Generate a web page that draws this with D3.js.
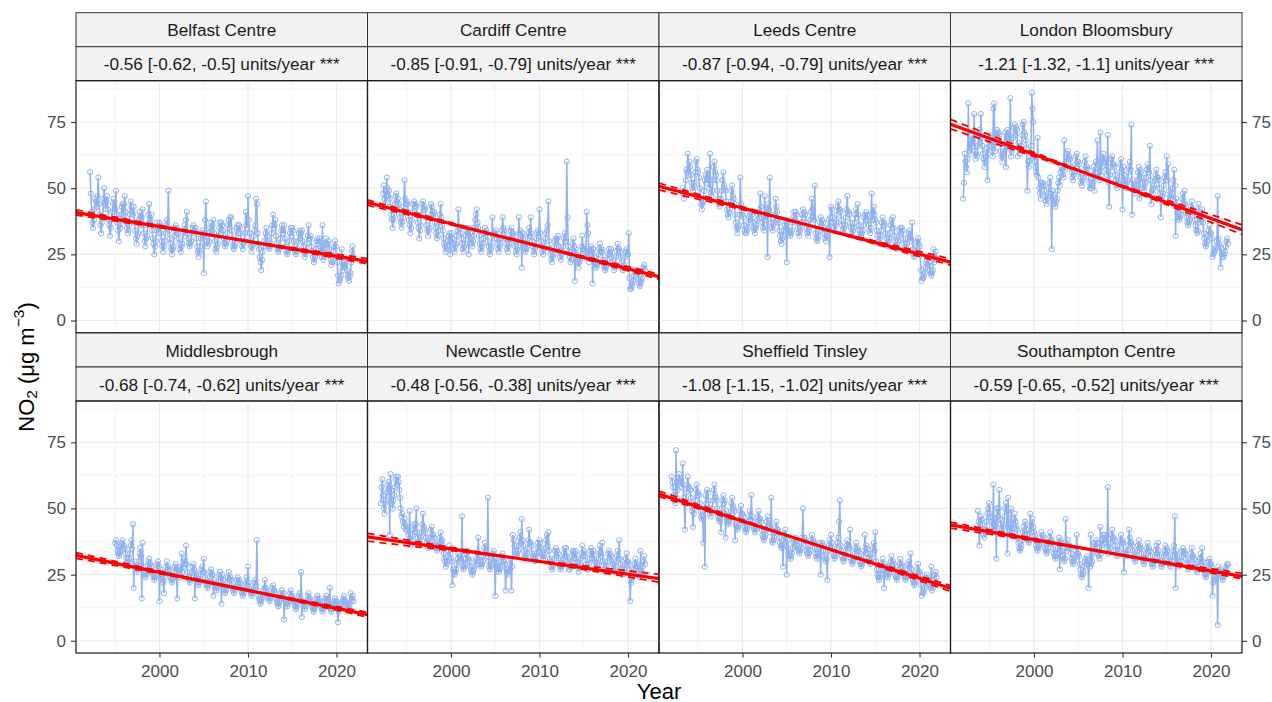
<!DOCTYPE html>
<html>
<head>
<meta charset="utf-8">
<script src="https://cdn.jsdelivr.net/npm/d3@7"></script>
<style>
  body { margin: 0; background: #fff; }
  text { font-family: "Liberation Sans", Arial, Helvetica, sans-serif; }
</style>
</head>
<body>
<svg id="chart" width="1272" height="702"></svg>
<script>
// ---- Sites, trend statistics and axis ticks ----
const siteNames = ["Belfast Centre", "Cardiff Centre", "Leeds Centre", "London Bloomsbury",
                   "Middlesbrough", "Newcastle Centre", "Sheffield Tinsley", "Southampton Centre"];
// first month of each monthly series [year, month]
const siteStart = [[1992, 3], [1992, 5], [1993, 4], [1992, 1], [1995, 1], [1992, 2], [1992, 1], [1993, 9]];
// Theil-Sen slope and 95% interval (units/year)
const trendSlope = [-0.56, -0.85, -0.87, -1.21, -0.68, -0.48, -1.08, -0.59];
const trendLower = [-0.62, -0.91, -0.94, -1.32, -0.74, -0.56, -1.15, -0.65];
const trendUpper = [-0.5, -0.79, -0.79, -1.1, -0.62, -0.38, -1.02, -0.52];
// fitted trend level in 2007
const trendAt2007 = [31.6, 30.6, 36.4, 54.3, 21.1, 31.4, 37.7, 34.1];
const xTicks = [2000, 2010, 2020];
const yTicks = [0, 25, 50, 75];

// ---- Monthly mean NO2 (one row per year) ----
const belfast = [
  56,48,41,37,35,38,42,46,45,43,
  47,54,44,40,36,33,37,39,46,50,44,42,
  45,47,42,38,36,32,35,38,41,44,46,41,
  42,49,40,37,34,30,36,35,40,43,44,38,
  44,47,41,37,35,33,34,36,40,45,43,41,
  40,43,37,34,31,29,32,33,38,41,39,36,
  39,42,36,33,30,28,31,32,36,40,44,37,
  38,40,34,31,29,25,28,30,34,37,35,33,
  37,36,33,30,28,26,28,30,33,36,38,35,
  49,34,31,29,27,25,27,28,32,35,36,33,
  35,33,31,29,27,26,28,29,33,34,36,32,
  38,41,33,31,29,28,29,30,33,35,36,34,
  34,35,31,28,26,24,26,28,31,33,34,32,
  18,33,38,45,30,28,29,30,33,35,37,34,
  36,38,33,30,27,26,28,29,32,35,37,33,
  37,36,34,31,29,28,29,30,33,36,38,35,
  39,39,34,30,28,27,28,29,32,35,36,33,
  36,35,33,30,28,27,29,30,33,41,36,35,
  47,38,33,30,28,26,28,29,32,34,36,46,
  44,33,29,27,24,22,19,23,26,28,30,29,
  33,35,32,30,28,27,28,29,33,36,40,35,
  36,38,32,29,27,26,27,28,31,34,36,33,
  34,36,31,28,26,25,26,27,30,33,35,32,
  35,34,30,28,26,25,26,27,30,33,34,31,
  33,34,30,28,26,24,25,26,29,32,36,31,
  31,32,28,26,24,22,23,24,27,30,31,29,
  30,31,28,26,24,36,23,24,27,29,31,29,
  29,30,27,25,23,21,22,23,26,28,30,28,
  24,22,17,14,15,16,17,27,19,21,22,20,
  21,23,19,17,16,15,17,18,22,26,28,24
];
const cardiff = [
  48,51,46,44,47,54,50,47,
  49,46,43,40,38,35,38,40,44,47,48,45,
  46,44,42,39,37,35,37,39,43,53,46,44,
  45,44,41,38,36,33,35,38,41,44,45,43,
  44,43,40,37,35,31,34,36,40,44,45,42,
  43,42,39,36,34,32,34,35,39,44,43,41,
  40,41,37,35,33,31,32,34,37,40,44,39,
  36,34,31,29,28,26,27,28,30,32,33,25,
  30,33,31,29,27,26,28,29,32,34,42,35,
  35,33,31,29,27,26,28,29,32,34,35,33,
  25,35,33,31,29,28,30,32,35,38,40,42,
  37,35,32,29,27,26,28,29,31,33,35,32,
  34,33,30,28,26,25,27,28,39,32,33,31,
  33,34,31,29,27,26,28,29,31,34,39,35,
  34,33,31,29,27,26,28,29,31,34,35,33,
  33,32,30,28,26,25,27,28,39,33,34,32,
  20,33,31,29,27,26,27,28,31,33,35,32,
  39,33,30,28,26,25,27,28,31,33,34,32,
  42,33,30,28,26,25,27,28,31,33,34,36,
  45,30,27,25,23,22,24,25,28,30,31,29,
  31,32,28,26,24,23,25,26,28,31,33,30,
  30,60,39,28,26,24,22,23,26,29,31,28,
  15,27,25,23,22,20,22,23,25,28,32,27,
  28,27,26,24,41,36,33,22,25,27,28,26,
  14,27,24,22,21,20,21,22,25,27,29,26,
  27,26,23,21,20,19,20,21,23,25,27,25,
  26,27,24,22,21,19,20,21,24,26,29,27,
  27,26,24,22,20,19,20,21,24,26,27,25,
  25,33,16,12,12,13,14,15,17,18,19,17,
  18,19,16,14,13,14,15,16,18,20,21,19
];
const leeds = [
  50,48,46,49,53,57,56,63,55,
  60,58,55,52,50,49,51,52,56,60,61,57,
  56,54,50,46,44,42,44,45,49,53,55,52,
  57,55,53,50,63,48,47,49,53,58,60,56,
  55,53,49,46,44,43,45,46,49,53,56,51,
  50,49,45,42,40,39,41,42,45,49,51,47,
  46,44,40,37,35,33,35,36,40,54,44,41,
  40,39,36,34,33,33,34,35,37,39,40,38,
  41,40,37,35,34,33,35,36,38,40,41,39,
  48,43,40,37,35,34,47,38,40,42,24,44,
  42,54,40,37,35,34,36,37,40,46,43,41,
  38,37,34,32,30,29,31,32,34,36,38,35,
  22,38,37,34,33,32,33,34,37,39,41,38,
  41,40,37,35,33,32,34,35,37,40,42,39,
  41,40,37,35,33,32,34,35,38,41,46,42,
  39,38,51,33,31,30,31,32,34,37,39,36,
  38,37,35,33,31,30,32,33,35,38,24,39,
  43,42,39,37,35,34,36,37,40,43,45,42,
  42,41,38,36,34,33,35,36,39,42,47,41,
  41,40,37,35,33,32,34,35,37,40,42,39,
  44,40,36,34,33,32,33,34,36,39,40,38,
  41,40,38,36,34,33,35,48,38,41,43,40,
  38,37,34,32,30,29,31,32,34,37,39,36,
  37,36,33,31,29,28,30,31,33,36,38,35,
  39,35,32,30,28,27,29,30,32,34,35,33,
  35,34,31,29,27,26,28,29,31,33,34,32,
  31,30,37,27,25,24,25,26,28,30,31,29,
  28,25,19,15,16,16,17,18,20,22,23,21,
  21,22,19,18,17,18,19,27,22,24,26,23
];
const london = [
  46,52,63,60,58,56,61,82,64,66,68,63,
  70,68,66,78,64,61,63,62,66,70,72,67,
  78,70,66,63,61,58,60,62,65,53,68,66,
  70,69,66,64,62,80,82,64,67,71,72,69,
  71,70,67,64,62,60,62,63,67,71,58,69,
  72,71,68,65,84,62,64,65,69,73,74,70,
  73,72,62,67,65,63,65,66,70,74,75,71,
  70,68,65,49,60,58,60,62,66,86,80,75,
  62,60,58,56,55,69,54,50,48,46,52,51,
  52,51,49,47,45,44,46,47,50,52,54,48,
  27,49,47,45,44,43,45,46,49,52,54,51,
  56,58,57,55,54,68,57,58,60,63,64,61,
  62,61,58,56,54,53,55,56,59,62,63,60,
  60,59,56,54,52,51,53,54,57,60,62,58,
  58,57,54,52,50,50,51,52,55,58,49,56,
  60,59,68,56,54,53,71,55,58,61,63,60,
  61,60,57,55,70,52,43,55,58,61,62,59,
  59,58,55,53,51,50,52,53,56,59,61,57,
  42,58,55,53,51,50,52,53,56,58,60,57,
  74,40,53,51,49,48,50,51,53,56,58,46,
  57,56,54,52,50,49,51,52,54,57,59,56,
  56,66,53,44,49,48,50,51,53,55,57,54,
  54,53,50,48,39,46,47,48,51,54,56,53,
  62,53,59,49,47,46,47,48,50,53,57,51,
  32,46,43,41,39,38,39,40,43,46,48,44,
  49,44,41,39,37,36,37,38,40,43,45,42,
  42,41,38,36,34,33,34,44,37,39,41,38,
  42,37,33,31,29,28,29,30,32,34,36,33,
  33,31,24,25,26,26,27,28,30,47,31,29,
  28,20,27,25,24,24,25,26,28,30,31,29
];
const middlesbrough = [
  37,38,36,34,33,32,33,34,36,37,38,35,
  36,35,33,31,30,29,30,31,33,36,38,35,
  44,20,30,28,27,26,27,28,30,33,35,32,
  16,37,28,26,25,24,25,26,28,30,31,29,
  29,28,26,25,24,23,24,25,27,29,30,28,
  15,27,25,24,23,22,18,24,26,28,30,27,
  28,27,25,24,23,22,23,24,26,28,29,27,
  16,28,27,26,25,24,33,26,28,30,31,29,
  36,29,26,24,23,22,23,24,26,28,29,27,
  16,26,25,23,22,21,22,23,25,27,28,26,
  31,26,24,22,21,20,21,22,24,26,27,25,
  25,17,23,21,20,19,20,21,23,25,26,24,
  14,25,23,21,19,18,19,20,22,24,26,23,
  24,23,21,20,19,18,19,20,21,23,24,22,
  23,22,20,19,18,17,18,19,21,22,24,21,
  28,22,20,19,18,17,18,19,20,22,23,21,
  38,19,17,16,15,14,15,16,17,19,20,23,
  20,19,18,17,16,15,16,17,18,20,21,19,
  19,18,16,15,14,13,14,15,16,18,19,17,
  18,8,16,15,14,13,14,15,16,18,19,17,
  17,16,15,14,13,12,13,14,15,17,18,16,
  26,9,15,14,13,12,13,14,15,17,18,16,
  16,15,14,13,12,11,12,13,14,16,17,15,
  16,15,14,13,12,11,12,13,15,16,17,15,
  16,15,14,20,12,11,12,13,14,15,16,14,
  15,14,7,11,12,12,13,14,15,16,17,15,
  15,14,13,12,12,13,14,18,15,16,17,15
];
const newcastle = [
  52,58,61,55,50,48,52,53,56,59,57,
  60,40,63,57,52,50,53,55,58,61,62,59,
  62,60,57,54,50,47,48,45,43,46,44,42,
  43,42,40,38,49,36,37,38,40,42,44,41,
  44,50,41,39,37,36,38,39,41,44,48,43,
  42,41,39,37,36,35,36,37,39,42,43,40,
  40,39,37,36,35,34,35,36,37,39,41,38,
  38,36,33,31,30,28,29,30,32,34,36,33,
  31,30,21,27,26,25,26,27,29,31,33,30,
  32,31,30,47,28,27,28,29,31,33,34,31,
  31,30,28,27,26,25,26,27,28,30,31,29,
  33,39,32,30,29,28,29,30,32,35,37,33,
  33,32,54,30,28,27,28,29,31,33,34,31,
  17,31,29,28,27,26,27,28,30,32,33,30,
  30,29,19,27,26,25,26,27,29,31,19,28,
  40,38,36,34,33,32,33,34,36,39,41,37,
  46,38,36,34,32,31,32,33,35,38,42,37,
  37,36,33,32,31,30,31,32,33,35,37,34,
  38,37,35,33,32,31,32,33,35,38,40,36,
  41,34,31,30,28,27,28,29,31,34,35,32,
  34,33,31,29,28,27,28,29,31,33,35,32,
  35,32,30,29,27,27,28,30,32,34,34,31,
  33,34,31,30,28,26,28,29,31,33,36,32,
  34,33,32,29,28,27,27,29,31,34,35,31,
  33,34,31,30,28,27,29,29,31,33,36,33,
  32,37,30,29,27,26,27,28,30,33,34,31,
  33,32,30,29,27,26,27,28,30,32,34,31,
  38,31,29,27,26,25,26,27,29,31,33,30,
  30,29,27,15,22,23,24,25,27,29,31,28,
  29,28,26,25,24,34,25,26,28,30,32,29
];
const sheffield = [
  62,60,58,55,53,52,72,54,57,60,63,60,
  61,60,58,67,54,52,42,53,56,59,62,58,
  58,57,54,51,49,43,48,50,53,57,59,55,
  56,55,52,49,47,46,47,37,50,28,55,52,
  57,56,53,50,48,47,49,50,53,57,59,55,
  54,53,50,47,46,45,46,41,50,53,55,52,
  53,39,49,46,45,44,45,46,49,52,54,51,
  50,49,38,44,43,42,43,44,46,49,51,48,
  48,47,45,43,42,41,42,43,45,47,49,46,
  55,47,45,43,42,41,42,43,45,47,49,46,
  46,45,42,40,39,38,39,40,42,45,47,44,
  44,43,41,54,38,37,38,39,41,43,45,42,
  42,41,39,37,36,35,36,28,38,40,42,39,
  25,38,35,33,32,31,32,33,35,37,38,36,
  39,38,36,35,34,33,34,35,37,39,50,38,
  39,38,36,34,33,32,33,34,36,38,40,37,
  38,37,35,33,32,31,32,33,35,37,25,36,
  37,36,34,32,31,30,31,23,34,36,38,35,
  40,37,35,33,32,31,32,33,35,37,39,45,
  53,36,34,32,31,30,31,32,34,36,38,35,
  36,35,42,31,30,29,30,31,33,35,37,34,
  35,34,32,30,29,28,29,30,32,34,40,33,
  36,35,33,31,30,29,30,31,33,35,37,34,
  41,30,27,25,24,23,24,25,27,29,31,28,
  20,29,28,26,25,24,25,26,28,30,32,29,
  30,29,27,25,24,23,24,25,27,29,31,28,
  29,28,26,25,24,23,24,25,27,29,30,28,
  33,27,25,23,22,21,22,23,25,27,29,26,
  26,25,21,17,18,18,19,20,22,24,25,23,
  23,22,21,20,28,19,20,21,23,25,26,24
];
const southampton = [
  49,45,36,44,
  47,46,44,42,40,39,41,42,45,48,50,52,
  48,47,45,43,41,59,42,43,46,31,50,47,
  50,57,46,44,42,41,43,44,47,50,52,49,
  33,54,44,42,40,50,41,42,44,46,48,45,
  43,42,39,37,35,34,35,36,38,41,43,40,
  45,44,42,40,38,37,38,48,41,44,46,43,
  41,40,38,36,35,34,35,36,37,39,41,38,
  40,39,37,35,34,33,34,35,37,39,41,38,
  38,37,35,33,32,31,32,33,35,37,39,27,
  38,37,34,32,31,30,31,46,34,36,38,35,
  36,35,33,31,30,29,30,31,32,34,40,33,
  33,32,29,27,25,24,25,26,28,30,31,29,
  32,31,20,29,28,40,29,30,33,35,37,34,
  38,37,35,33,32,31,43,33,36,38,40,37,
  40,39,37,35,58,33,34,35,37,40,42,39,
  39,38,36,34,33,32,33,34,36,38,40,37,
  38,37,26,34,33,32,33,34,36,42,39,37,
  37,36,34,32,31,30,31,32,34,36,38,35,
  36,35,33,31,30,29,30,31,33,35,37,34,
  35,34,32,30,29,28,29,30,32,34,36,33,
  37,34,32,30,29,28,29,30,32,34,36,33,
  35,34,32,30,29,28,29,30,32,34,36,47,
  20,34,32,30,29,28,29,30,32,34,35,33,
  34,33,31,29,28,27,28,29,31,33,35,32,
  32,31,29,28,27,26,27,28,30,31,33,30,
  35,30,28,26,25,24,25,26,28,30,31,29,
  29,28,17,22,23,23,24,25,26,6,28,26,
  27,26,25,24,23,24,25,26,27,28,29,29
];
const siteSeries = [belfast, cardiff, leeds, london, middlesbrough, newcastle, sheffield, southampton];

// ---- Layout ----
const svg = d3.select("#chart");
const left = 76, right = 1242, nCol = 4;
const pw = (right - left) / nCol;
const rowTop0 = 12.7, rowPitch = 320.3, stripH = 34, ph = 252;
const blue = "#8fb1ee";
const red = "#ff0000";

const x = d3.scaleLinear().domain([1990.57, 2023.5]).range([0, pw]);
const y = d3.scaleLinear().domain([-4.6, 90.6]).range([ph, 0]);

svg.append("rect").attr("width", 1272).attr("height", 702).attr("fill", "#fff");
svg.append("defs").append("clipPath").attr("id", "panel-clip")
  .append("rect").attr("width", pw).attr("height", ph);

const line = d3.line().x(d => x(d.t)).y(d => y(d.v));

siteSeries.forEach((vals, i) => {
  const col = i % nCol, row = Math.floor(i / nCol);
  const gx = left + col * pw;
  const rt = rowTop0 + row * rowPitch;
  const pt = rt + 2 * stripH;

  // strips: site name and trend summary
  const labels = [siteNames[i],
    `${trendSlope[i]} [${trendLower[i]}, ${trendUpper[i]}] units/year ***`];
  labels.forEach((lab, k) => {
    const sy = rt + k * stripH;
    svg.append("rect").attr("x", gx).attr("y", sy).attr("width", pw).attr("height", stripH)
      .attr("fill", "#f2f2f2").attr("stroke", "#333").attr("stroke-width", 1);
    svg.append("text").attr("x", gx + pw / 2).attr("y", sy + stripH / 2 + 0.5)
      .attr("text-anchor", "middle").attr("dominant-baseline", "central")
      .attr("font-size", "17.2px").attr("fill", "#1a1a1a").text(lab);
  });

  const g = svg.append("g").attr("transform", `translate(${gx},${pt})`);

  // grid
  const minorX = [1995, 2005, 2015], minorY = [12.5, 37.5, 62.5, 87.5];
  g.selectAll(".gmx").data(minorX).join("line")
    .attr("x1", d => x(d)).attr("x2", d => x(d)).attr("y1", 0).attr("y2", ph)
    .attr("stroke", "#f0f0f0").attr("stroke-width", 0.7);
  g.selectAll(".gmy").data(minorY).join("line")
    .attr("y1", d => y(d)).attr("y2", d => y(d)).attr("x1", 0).attr("x2", pw)
    .attr("stroke", "#f0f0f0").attr("stroke-width", 0.7);
  g.selectAll(".gx").data(xTicks).join("line")
    .attr("x1", d => x(d)).attr("x2", d => x(d)).attr("y1", 0).attr("y2", ph)
    .attr("stroke", "#ebebeb").attr("stroke-width", 1.2);
  g.selectAll(".gy").data(yTicks).join("line")
    .attr("y1", d => y(d)).attr("y2", d => y(d)).attr("x1", 0).attr("x2", pw)
    .attr("stroke", "#ebebeb").attr("stroke-width", 1.2);

  const [sy0, sm0] = siteStart[i];
  const pts = vals.map((v, k) => ({ t: sy0 + (sm0 - 1 + k) / 12, v }));

  const body = g.append("g").attr("clip-path", "url(#panel-clip)");
  body.append("path").datum(pts).attr("d", line)
    .attr("fill", "none").attr("stroke", blue).attr("stroke-width", 1.5);
  body.selectAll("circle").data(pts).join("circle")
    .attr("cx", d => x(d.t)).attr("cy", d => y(d.v)).attr("r", 2.6)
    .attr("fill", "none").attr("stroke", blue).attr("stroke-width", 1);

  // Theil-Sen trend with its slope interval
  const [t0, t1] = x.domain();
  const fit = t => trendAt2007[i] + trendSlope[i] * (t - 2007);
  const tm = (pts[0].t + pts[pts.length - 1].t) / 2;
  const ym = fit(tm);
  [trendLower[i], trendUpper[i]].forEach(s => {
    body.append("line")
      .attr("x1", x(t0)).attr("y1", y(ym + s * (t0 - tm)))
      .attr("x2", x(t1)).attr("y2", y(ym + s * (t1 - tm)))
      .attr("stroke", red).attr("stroke-width", 1.8).attr("stroke-dasharray", "7,5");
  });
  body.append("line")
    .attr("x1", x(t0)).attr("y1", y(fit(t0)))
    .attr("x2", x(t1)).attr("y2", y(fit(t1)))
    .attr("stroke", red).attr("stroke-width", 3.2);

  // panel border
  g.append("rect").attr("width", pw).attr("height", ph)
    .attr("fill", "none").attr("stroke", "#1a1a1a").attr("stroke-width", 1.2);

  // axes
  const styleAxis = a => {
    a.select(".domain").remove();
    a.selectAll(".tick line").attr("stroke", "#333").attr("stroke-width", 1.1);
    a.selectAll(".tick text").attr("fill", "#4d4d4d").attr("font-size", "17px")
      .attr("font-family", "Liberation Sans, Arial, sans-serif");
  };
  if (col === 0) {
    g.append("g").call(d3.axisLeft(y).tickValues(yTicks).tickSize(5).tickPadding(5)).call(styleAxis);
  }
  if (col === nCol - 1) {
    g.append("g").attr("transform", `translate(${pw},0)`)
      .call(d3.axisRight(y).tickValues(yTicks).tickSize(5).tickPadding(5)).call(styleAxis);
  }
  if (row === 1) {
    g.append("g").attr("transform", `translate(0,${ph})`)
      .call(d3.axisBottom(x).tickValues(xTicks).tickFormat(d3.format("d")).tickSize(4.5).tickPadding(7))
      .call(styleAxis);
  }
});

// axis titles
svg.append("text").attr("x", (left + right) / 2).attr("y", 691)
  .attr("text-anchor", "middle").attr("dominant-baseline", "central")
  .attr("font-size", "22px").attr("fill", "#000").text("Year");

const yt = svg.append("text")
  .attr("transform", "translate(26,367) rotate(-90)")
  .attr("text-anchor", "middle").attr("dominant-baseline", "central")
  .attr("font-size", "22px").attr("fill", "#000");
yt.append("tspan").text("NO");
yt.append("tspan").attr("font-size", "15.5px").attr("dy", 5).text("2");
yt.append("tspan").attr("dy", -5).text(" (μg m");
yt.append("tspan").attr("font-size", "15.5px").attr("dy", -8).text("−3");
yt.append("tspan").attr("dy", 8).text(")");
</script>
</body>
</html>
